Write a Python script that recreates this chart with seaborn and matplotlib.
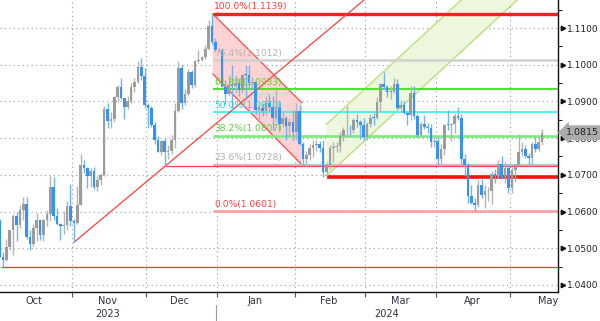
import numpy as np
import pandas as pd
import matplotlib
matplotlib.use("Agg")
import matplotlib.pyplot as plt
import matplotlib.transforms as mtransforms
import seaborn as sns

# ---------------- data ----------------
dates = pd.bdate_range("2023-10-02", "2024-05-14")

opens = [1.0573,1.0477,1.0468,1.0504,1.0549,1.0587,1.0564,1.0605,1.0621,1.0530,1.0511,1.0556,1.0577,1.0535,1.0576,1.0594,1.0668,1.0589,1.0566,1.0560,1.0564,1.0615,
         1.0575,1.0570,1.0619,1.0728,1.0718,1.0697,1.0711,1.0666,1.0685,1.0700,1.0880,1.0847,1.0852,1.0913,1.0939,1.0908,1.0886,1.0902,1.0940,1.0954,1.0994,1.0970,
         1.0890,1.0883,1.0836,1.0796,1.0763,1.0792,1.0763,1.0765,1.0794,1.0874,1.0991,1.0895,1.0921,1.0980,1.0944,1.1011,1.1012,1.1020,1.1044,1.1105,1.1061,
         1.1039,1.1040,1.0939,1.0920,1.0945,1.0942,1.0950,1.0932,1.0973,1.0972,1.0951,1.0952,1.0877,1.0883,1.0873,1.0897,1.0885,1.0856,1.0884,1.0838,1.0854,1.0833,1.0845,
         1.0817,1.0873,1.0785,1.0743,1.0755,1.0772,1.0780,1.0785,1.0772,1.0709,1.0727,1.0772,1.0777,1.0778,1.0807,1.0821,1.0823,1.0821,1.0850,1.0844,1.0837,
         1.0804,1.0838,1.0856,1.0855,1.0899,1.0948,1.0938,1.0926,1.0927,1.0948,1.0882,1.0889,1.0868,1.0864,1.0924,1.0859,1.0808,1.0838,1.0831,1.0827,1.0790,
         1.0792,1.0742,1.0770,1.0837,1.0836,1.0838,1.0860,1.0856,1.0743,1.0728,1.0641,1.0624,1.0619,1.0673,1.0644,1.0655,1.0656,1.0703,1.0698,1.0730,1.0693,1.0719,
         1.0665,1.0713,1.0727,1.0761,1.0771,1.0752,1.0747,1.0783,1.0770,1.0790]
highs = [1.0579,1.0489,1.0525,1.0550,1.0592,1.0600,1.0618,1.0640,1.0640,1.0550,1.0566,1.0595,1.0581,1.0581,1.0605,1.0696,1.0695,1.0609,1.0570,1.0602,1.0628,1.0675,
         1.0580,1.0669,1.0756,1.0740,1.0720,1.0719,1.0722,1.0697,1.0705,1.0887,1.0895,1.0870,1.0914,1.0946,1.0965,1.0910,1.0915,1.0951,1.0965,1.1009,1.1017,1.0990,
         1.0896,1.0888,1.0845,1.0806,1.0795,1.0801,1.0782,1.0808,1.0895,1.1009,1.1000,1.0935,1.0988,1.0985,1.1013,1.1040,1.1025,1.1055,1.1122,1.1139,1.1074,
         1.1046,1.1046,1.0957,1.0973,1.0998,1.0972,1.0963,1.0975,1.0998,1.0999,1.0966,1.0955,1.0890,1.0893,1.0916,1.0920,1.0915,1.0932,1.0905,1.0875,1.0860,1.0855,1.0876,
         1.0897,1.0889,1.0790,1.0765,1.0785,1.0795,1.0794,1.0793,1.0794,1.0735,1.0780,1.0790,1.0790,1.0818,1.0830,1.0888,1.0835,1.0855,1.0865,1.0850,1.0855,
         1.0845,1.0867,1.0868,1.0912,1.0950,1.0981,1.0945,1.0942,1.0964,1.0960,1.0905,1.0902,1.0875,1.0942,1.0942,1.0866,1.0843,1.0864,1.0842,1.0838,1.0803,
         1.0802,1.0784,1.0838,1.0876,1.0841,1.0869,1.0885,1.0865,1.0756,1.0732,1.0672,1.0636,1.0686,1.0690,1.0672,1.0666,1.0711,1.0715,1.0740,1.0752,1.0734,1.0730,
         1.0720,1.0730,1.0812,1.0790,1.0780,1.0760,1.0790,1.0804,1.0800,1.0825]
lows = [1.0476,1.0448,1.0465,1.0496,1.0482,1.0520,1.0555,1.0577,1.0525,1.0496,1.0505,1.0521,1.0523,1.0520,1.0560,1.0573,1.0577,1.0563,1.0523,1.0540,1.0550,1.0560,
        1.0516,1.0567,1.0617,1.0705,1.0665,1.0668,1.0662,1.0656,1.0672,1.0696,1.0828,1.0828,1.0845,1.0900,1.0906,1.0852,1.0880,1.0895,1.0926,1.0950,1.0958,1.0883,
        1.0828,1.0830,1.0785,1.0762,1.0755,1.0723,1.0743,1.0757,1.0773,1.0870,1.0880,1.0890,1.0915,1.0937,1.0938,1.1005,1.1010,1.1015,1.1040,1.1055,1.1034,
        1.1035,1.0938,1.0892,1.0915,1.0877,1.0922,1.0915,1.0923,1.0912,1.0936,1.0937,1.0867,1.0844,1.0860,1.0862,1.0875,1.0821,1.0845,1.0822,1.0830,1.0795,1.0806,1.0795,
        1.0795,1.0780,1.0723,1.0722,1.0740,1.0748,1.0765,1.0761,1.0695,1.0697,1.0717,1.0735,1.0761,1.0761,1.0792,1.0803,1.0805,1.0815,1.0830,1.0797,1.0796,
        1.0796,1.0830,1.0835,1.0852,1.0874,1.0931,1.0912,1.0906,1.0924,1.0880,1.0870,1.0865,1.0836,1.0850,1.0853,1.0802,1.0803,1.0826,1.0813,1.0776,1.0775,
        1.0727,1.0724,1.0755,1.0823,1.0792,1.0815,1.0850,1.0729,1.0697,1.0623,1.0620,1.0601,1.0612,1.0637,1.0610,1.0630,1.0620,1.0677,1.0690,1.0690,1.0677,1.0650,
        1.0650,1.0680,1.0725,1.0750,1.0745,1.0723,1.0725,1.0762,1.0765,1.0780]
closes = [1.0477,1.0468,1.0504,1.0549,1.0587,1.0564,1.0605,1.0621,1.0530,1.0511,1.0556,1.0577,1.0535,1.0576,1.0594,1.0668,1.0589,1.0566,1.0560,1.0564,1.0615,1.0575,
          1.0570,1.0619,1.0728,1.0718,1.0697,1.0711,1.0666,1.0685,1.0700,1.0880,1.0847,1.0852,1.0913,1.0939,1.0908,1.0886,1.0902,1.0940,1.0954,1.0994,1.0970,1.0890,
          1.0883,1.0836,1.0796,1.0763,1.0792,1.0763,1.0765,1.0794,1.0874,1.0991,1.0895,1.0921,1.0980,1.0944,1.1011,1.1012,1.1020,1.1044,1.1105,1.1061,1.1039,
          1.1040,1.0939,1.0920,1.0945,1.0942,1.0950,1.0932,1.0973,1.0972,1.0951,1.0952,1.0877,1.0883,1.0873,1.0897,1.0885,1.0856,1.0884,1.0838,1.0854,1.0833,1.0845,1.0817,
          1.0873,1.0785,1.0743,1.0755,1.0772,1.0780,1.0785,1.0772,1.0709,1.0727,1.0772,1.0777,1.0778,1.0807,1.0821,1.0823,1.0821,1.0850,1.0844,1.0837,1.0804,
          1.0838,1.0856,1.0855,1.0899,1.0948,1.0938,1.0926,1.0927,1.0948,1.0882,1.0889,1.0868,1.0864,1.0924,1.0859,1.0808,1.0838,1.0831,1.0827,1.0790,1.0792,
          1.0742,1.0770,1.0837,1.0836,1.0838,1.0860,1.0856,1.0743,1.0728,1.0641,1.0624,1.0619,1.0673,1.0644,1.0655,1.0656,1.0703,1.0698,1.0730,1.0693,1.0719,1.0665,
          1.0713,1.0727,1.0761,1.0771,1.0752,1.0747,1.0783,1.0770,1.0790,1.0815]

fib_levels = [1.1139, 1.1012, 1.0933, 1.0870, 1.0807, 1.0728, 1.0601]
fib_labels = ["100.0%(1.1139)", "76.4%(1.1012)", "61.8%(1.0933)", "50.0%(1.0870)",
              "38.2%(1.0807)", "23.6%(1.0728)", "0.0%(1.0601)"]
fib_start = 63.3

support_pts = [(22, 1.0516), (49, 1.0723)]   # Nov 1 low -> Dec 8 low
low_oct = 1.0448
low_dec = 1.0723
low_feb = 1.0695
red_channel = [(63.2, 1.1139), (89.7, 1.0896), (89.7, 1.0727), (63.2, 1.0975)]
green_channel_lower = [(97.0, 1.0697), (156.4, 1.1200)]
green_channel_upper = [(97.0, 1.0838), (139.8, 1.1200)]
last_price = 1.0815

month_names = ["Oct", "Nov", "Dec", "Jan", "Feb", "Mar", "Apr", "May"]
month_label_pos = [10.2, 32.0, 53.5, 75.8, 97.7, 118.8, 140.4, 162.7]
year_labels = [("2023", 32.0), ("2024", 114.9)]
price_ticks = [1.04, 1.05, 1.06, 1.07, 1.08, 1.09, 1.10, 1.11]

# ---------------- figure ----------------
sns.set_theme(style="white")
plt.rcParams['font.family'] = ['DejaVu Sans']

df = pd.DataFrame({"date": dates, "open": opens, "high": highs, "low": lows, "close": closes})
df["i"] = np.arange(len(df))
df["up"] = df["close"] >= df["open"]

fig = plt.figure(figsize=(6.0, 3.21), dpi=100)
ax = fig.add_axes([0, 29 / 321, 558 / 600, 292 / 321])
XMAX = 165.7
ax.set_xlim(0.09, XMAX)
ax.set_ylim(1.03808, 1.11763)

# channels (background)
ax.add_patch(plt.Polygon(red_channel, closed=True, fc="#ffd3d3", ec="none", zorder=1))
(rx0, ry0), (rx1, ry1), (rx2, ry2), (rx3, ry3) = red_channel
ax.plot([rx0, rx1], [ry0, ry1], color="#ff4a4a", lw=0.9, zorder=2)
ax.plot([rx3, rx2], [ry3, ry2], color="#ff4a4a", lw=0.9, zorder=2)
(gl0x, gl0y), (gl1x, gl1y) = green_channel_lower
(gu0x, gu0y), (gu1x, gu1y) = green_channel_upper
ax.add_patch(plt.Polygon([(gl0x, gl0y), (gl1x, gl1y), (gu1x, gu1y), (gu0x, gu0y)],
                         closed=True, fc="#eef6dd", ec="none", zorder=1))
ax.plot([gl0x, gl1x], [gl0y, gl1y], color="#b9e07c", lw=1.0, zorder=2)
ax.plot([gu0x, gu1x], [gu0y, gu1y], color="#b9e07c", lw=1.0, zorder=2)

# fibonacci levels
fib_line_colors = ["#ff1e1e", "#d0d0d0", "#3ee01e", "#3ff0f0", "#7fe87f", "#cdbdbd", "#ff9c9c"]
fib_line_widths = [2.4, 1.8, 1.3, 1.3, 1.9, 1.6, 1.8]
fib_text_colors = ["#ff3b3b", "#b4b4b4", "#5ad22a", "#2ecfd0", "#5ad23a", "#b0b0b0", "#ff4040"]
for lev, lab, lc, lw, tc in zip(fib_levels, fib_labels, fib_line_colors, fib_line_widths, fib_text_colors):
    ax.hlines(lev, fib_start, XMAX, color=lc, lw=lw, zorder=2)
    ax.text(fib_start + 0.4, lev + 0.00065, lab, color=tc, fontsize=6.6, ha="left", va="bottom", zorder=4)

# support trend line & horizontal levels
(sx0, sy0), (sx1, sy1) = support_pts
slope = (sy1 - sy0) / (sx1 - sx0)
sx_end = sx0 + (1.12 - sy0) / slope
ax.plot([sx0, sx_end], [sy0, 1.12], color="#ff4040", lw=0.9, zorder=2)
ax.hlines(low_dec, sx1, XMAX, color="#ff4040", lw=0.9, zorder=2)
ax.hlines(low_oct, 0.5, XMAX, color="#ff3030", lw=0.9, zorder=2)
ax.hlines(low_feb, 97.0, XMAX, color="#ff0e0e", lw=2.6, zorder=2)

# candles
bull_c, bear_c = "#9c9c9c", "#3693f5"
wick_bull, wick_bear = "#b4b4b4", "#6fb3f8"
colors = np.where(df["up"], bull_c, bear_c)
wcolors = np.where(df["up"], wick_bull, wick_bear)
ax.vlines(df["i"], df["low"], df["high"], colors=wcolors, lw=1.0, zorder=3)
body_bottom = np.minimum(df["open"], df["close"])
body_h = np.maximum(np.abs(df["close"] - df["open"]), 0.00015)
ax.bar(df["i"], body_h, bottom=body_bottom, width=0.78, color=colors, lw=0, zorder=3)

# axes styling
for s in ["left", "top"]:
    ax.spines[s].set_visible(False)
for s in ["right", "bottom"]:
    ax.spines[s].set_visible(True)
    ax.spines[s].set_color("#111111")
    ax.spines[s].set_linewidth(1.0)

ax.yaxis.tick_right()
ax.set_yticks(price_ticks)
ax.set_yticklabels([f"{p:.4f}" for p in price_ticks])
ax.set_yticks(np.arange(1.040, 1.1176, 0.005), minor=True)
ax.tick_params(axis="y", which="major", length=0, pad=6.3, labelsize=6.5, labelcolor="#202020")
ax.tick_params(axis="y", which="minor", length=3, width=0.8, color="#222222", direction="out", right=True, left=False)
trans_ay = mtransforms.blended_transform_factory(ax.transAxes, ax.transData)
ax.plot(np.full(len(price_ticks), 1.0 + 5 / 558), price_ticks, ls="none", marker=">", ms=3.2,
        color="#111111", transform=trans_ay, clip_on=False, zorder=5)

month_bounds = [21.5, 43.5, 64.5, 87.5, 108.5, 129.5, 151.5]
ax.set_xticks(month_bounds)
ax.set_xticklabels([])
ax.tick_params(axis="x", length=3.5, width=0.8, color="#555555", direction="out", bottom=True)

ax.grid(True, which="major", linestyle=(0, (1, 3)), color="#9a9a9a", lw=0.8)
ax.set_axisbelow(True)

trans_xa = mtransforms.blended_transform_factory(ax.transData, ax.transAxes)
for name, pos in zip(month_names, month_label_pos):
    ax.text(pos, -0.031, name, transform=trans_xa, ha="center", va="center", fontsize=7,
            color="#303040", clip_on=False)
for name, pos in year_labels:
    ax.text(pos, -0.075, name, transform=trans_xa, ha="center", va="center", fontsize=7,
            color="#303040", clip_on=False)
ax.plot([64.3, 64.3], [-0.045, -0.1], transform=trans_xa, color="#999999", lw=0.8, clip_on=False)

# last price tag
ax.text(1.0 + 8 / 558, last_price, f"{last_price:.4f}", transform=trans_ay, ha="left", va="center",
        fontsize=6.8, color="#222222", zorder=10, clip_on=False,
        bbox=dict(boxstyle="larrow,pad=0.3", fc="#ababab", ec="none"))

fig.savefig("out.png", dpi=100, facecolor="white")
